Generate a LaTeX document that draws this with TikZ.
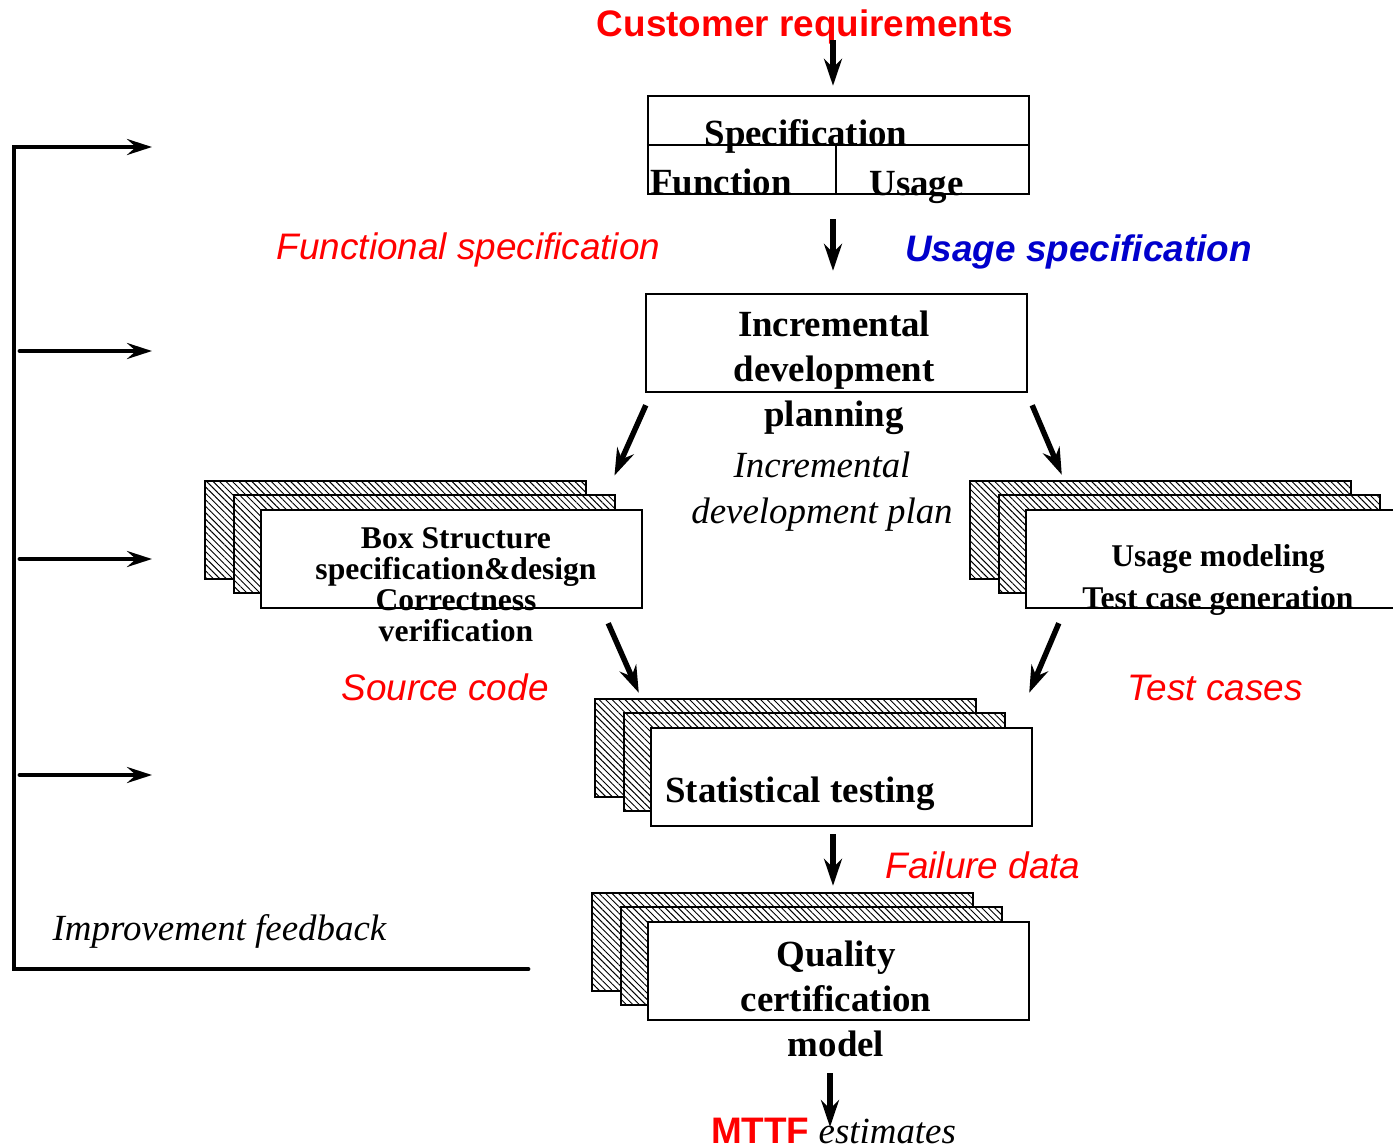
\documentclass[tikz,border=0pt]{standalone}
\usepackage{fontspec}
\setmainfont{Liberation Serif}
\setsansfont{Liberation Sans}
\usepackage{xcolor}
\usetikzlibrary{arrows.meta,calc,patterns.meta}
\definecolor{flow}{HTML}{FF0000}
\definecolor{usage}{HTML}{0000CC}
\newcommand{\fsz}[2]{\fontsize{#1}{#2}\selectfont}
% three sheets: two hatched ones behind the front one
\newcommand{\deck}[2]{%
  \node[sheet,hatch] (#1-3) at ($(#2)+(-56,-29)$) {};
  \node[sheet,hatch] (#1-2) at ($(#2)+(-27,-15)$) {};
  \node[sheet] (#1) at (#2) {};
}
\tikzset{
  every node/.style={inner sep=0pt},
  box/.style={draw,line width=1.4pt,minimum width=7.62cm,minimum height=1.96cm},
  sheet/.style={box,fill=white},
  hatch/.style={preaction={fill=white},pattern={Lines[angle=-45,distance=2.6pt,line width=0.55pt]}},
  ttl/.style={font=\bfseries\fsz{21}{25.6},align=center},
  sub/.style={font=\bfseries\fsz{18}{17.6},align=center},
  note/.style={font=\itshape\fsz{21}{26},align=center},
  req/.style={font=\sffamily\bfseries\fsz{21}{25},text=flow},
  lab/.style={font=\sffamily\itshape\fsz{21}{25},text=flow},
  ulab/.style={font=\sffamily\bfseries\itshape\fsz{21}{25},text=usage},
  rule/.style={line width=1.4pt},
  ar/.style={-{Stealth[length=0.54cm,width=0.36cm,inset=0.18cm]},line width=3.1pt},
  fb/.style={line width=2.8pt,line cap=round},
  fbar/.style={fb,-{Stealth[length=0.5cm,width=0.32cm,inset=0.18cm]}},
}

\begin{document}
\begin{tikzpicture}[x=0.02cm,y=-0.02cm]
\useasboundingbox (0,0) rectangle (1393,1147);

% specification
\node[req,anchor=base] (creq) at (805,36) {Customer requirements};
\node[box] (spec) at (838.5,145) {};
\draw[rule] (spec.west) -- (spec.east);
\draw[rule] ($(spec.center)+(-2.5,0)$) -- ($(spec.south)+(-2.5,0)$);
\node[ttl,anchor=base] (spectxt) at (806,145) {Specification};
\node[ttl,anchor=base west] (func) at (650,194) {Function};
\node[ttl,anchor=base west] (usg) at (869,195) {Usage};
\node[lab,anchor=base] (fspec) at (468.5,259) {Functional specification};
\node[ulab,anchor=base] (uspec) at (1078.5,261) {Usage specification};

% planning
\node[box] (inc) at (836.5,343) {};
\node[ttl,anchor=north] (inctxt) at (834,311) {Incremental\\development\\planning};
\node[note,anchor=north] (plan) at (822,452) {Incremental\\development plan};

% the two branches
\deck{left}{451.5,559}
\node[sub,anchor=north] (lefttxt) at (456,527) {Box Structure\\specification\&design\\Correctness\\verification};
\deck{right}{1216.5,559}
\node[sub,font=\bfseries\fsz{18}{23.8},anchor=north] (righttxt) at (1218,544) {Usage modeling\\Test case generation};
\node[lab,anchor=base] (src) at (445,700) {Source code};
\node[lab,anchor=base] (tcs) at (1215,700) {Test cases};

% testing and certification
\deck{stat}{841.5,777}
\node[ttl,anchor=base west] (stattxt) at (665,802) {Statistical testing};
\node[lab,anchor=base] (fail) at (983,878) {Failure data};
\deck{qual}{838.5,971}
\node[ttl,anchor=north] (qualtxt) at (836,941) {Quality\\certification\\model};
\node[font=\fsz{21}{25},anchor=base] (mttf) at (833.5,1143)
  {{\sffamily\bfseries\color{flow}MTTF} {\itshape estimates}};

% flow
\draw[ar] ($(creq.base)+(28,4)$) -- ($(spec.north)+(-5.5,-9)$);
\draw[ar] ($(spec.south)+(-5.5,24)$) -- ($(inc.north)+(-3.5,-22)$);
\draw[ar] ($(inc.south west)+(1,12)$) -- ($(left-3.north east)+(28,-5)$);
\draw[ar] ($(inc.south east)+(4,12)$) -- ($(right-3.north west)+(93,-5)$);
\draw[ar] ($(left.south east)+(-35,14)$) -- ($(stat-3.north west)+(45,-5)$);
\draw[ar] ($(right.south west)+(34,14)$) -- ($(stat.north east)+(-4,-34)$);
\draw[ar] ($(stat.south)+(-8.5,7)$) -- ($(qual.north)+(-5.5,-35)$);
\draw[ar] ($(qual.south)+(-8.5,52)$) -- ($(mttf.base)+(-3.5,-16)$);

% feedback
\node[note,anchor=base] (imp) at (219.5,940) {Improvement feedback};
\coordinate (fbin) at (528,969);
\coordinate (fbcorner) at (14,969);
\coordinate (fbtop) at (152,147);
\draw[fbar] (fbin) -- (fbcorner) |- (fbtop);
\foreach \y in {351,559,775} {
  \coordinate (fbl\y) at (20,\y);
  \coordinate (fbr\y) at (152,\y);
  \draw[fbar] (fbl\y) -- (fbr\y);
}
\end{tikzpicture}
\end{document}
